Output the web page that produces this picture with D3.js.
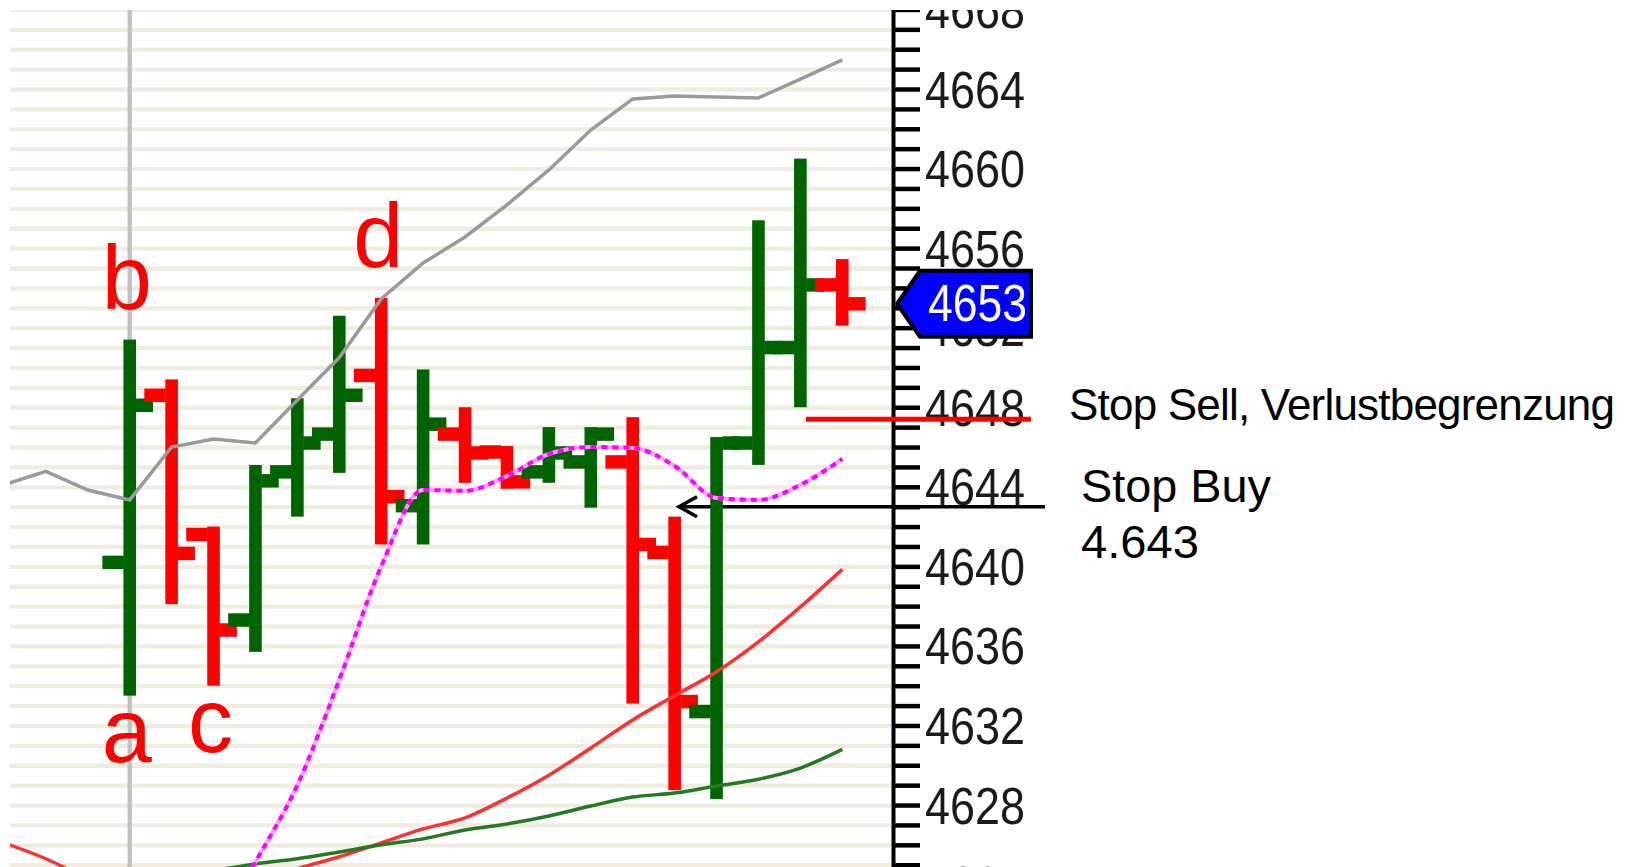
<!DOCTYPE html>
<html>
<head>
<meta charset="utf-8">
<script src="https://cdn.jsdelivr.net/npm/d3@7"></script>
<style>
  html, body { margin: 0; padding: 0; background: #fff; }
  svg { display: block; font-family: "Liberation Sans", Arial, sans-serif; }
</style>
</head>
<body>
<svg id="chart" width="1627" height="867"></svg>
<script>
// OHLC bars, index 0 = bar under the grey cursor line
const opens  = [4640.2, 4648.6, 4641.6, 4637.3, 4644.75, 4646.65, 4649.6, 4643.05, 4646.65,
                4645.75, 4644.75, 4645.25, 4645.25, 4640.7, 4632.7, 4646.2, 4651.0, 4654.15];
const highs  = [4651.4, 4649.4, 4642.0, 4645.1, 4648.45, 4652.6, 4653.5, 4649.9, 4648.0,
                4646.05, 4647.0, 4647.0, 4647.5, 4642.5, 4646.5, 4657.4, 4660.5, 4655.45];
const lows   = [4633.5, 4638.1, 4634.0, 4635.7, 4642.5, 4644.7, 4641.1, 4641.1, 4644.2,
                4643.9, 4644.2, 4642.95, 4633.1, 4628.75, 4628.3, 4645.1, 4648.0, 4652.1];
const closes = [4648.1, 4640.65, 4636.8, 4644.3, 4646.2, 4648.6, 4643.5, 4647.15, 4645.7,
                4644.25, 4645.7, 4646.65, 4641.1, 4633.2, 4646.2, 4651.0, 4654.15, 4653.2];

// indicator lines (first value sits at the given start index)
const greyStart = -3;
const greyLine = [4644.1, 4644.78, 4643.84, 4643.34, 4646.0, 4646.4, 4646.2, 4648.36, 4650.5, 4653.44,
                  4655.25, 4656.56, 4658.17, 4659.93, 4661.94, 4663.5, 4663.65, 4663.6, 4663.55, 4664.5, 4665.46];
const magentaStart = 2;
const magentaLine = [4621.5, 4625.14, 4629.0, 4634.3, 4640.0, 4643.84, 4643.8, 4644.54, 4645.65,
                     4646.0, 4645.95, 4645.05, 4643.44, 4643.34, 4644.1, 4645.4];
const redStart = -3;
const redLine = [4626.1, 4625.3, 4624.3, 4623.6, 4623.3, 4623.5, 4624.1, 4624.8, 4625.4, 4626.1, 4626.8,
                 4627.35, 4628.35, 4629.5, 4630.87, 4632.28, 4633.5, 4634.7, 4636.2, 4637.96, 4639.85];
const greenStart = 1;
const greenLine = [4624.3, 4624.7, 4625.04, 4625.3, 4625.64, 4626.0, 4626.3, 4626.75, 4627.05, 4627.45,
                   4627.95, 4628.4, 4628.6, 4628.96, 4629.3, 4629.86, 4630.8];

// price axis
const tickLabels = [4624, 4628, 4632, 4636, 4640, 4644, 4648, 4652, 4656, 4660, 4664, 4668];

// annotations
const markLetters = ["b", "a", "c", "d"];
const markBars = [0, 0, 2, 6];
const markSide = ["high", "low", "low", "high"];
const stopSell = 4647.4;
const stopBuy = 4643;
const stopSellText = "Stop Sell, Verlustbegrenzung";
const stopBuyText = ["Stop Buy", "4.643"];

const W = 1627, H = 867;
const plotLeft = 10, plotTop = 10, axisX = 893;
const green = "#006400", red = "#ff0000";

const svg = d3.select("#chart");

const x = d3.scaleLinear().domain([0, 17]).range([129.7, 842.3]);
const y = d3.scaleLinear().domain([4624, 4668]).range([884.6, 9.44]);

const defs = svg.append("defs");
defs.append("clipPath").attr("id", "clipPlot").append("rect")
  .attr("x", plotLeft).attr("y", plotTop)
  .attr("width", axisX - 2 - plotLeft).attr("height", H - plotTop);
defs.append("clipPath").attr("id", "clipAll").append("rect")
  .attr("x", 0).attr("y", plotTop).attr("width", W).attr("height", H - plotTop);

// axis on the right
const axisWrap = svg.append("g").attr("clip-path", "url(#clipAll)");
const gAxis = axisWrap.append("g")
  .attr("transform", `translate(${axisX},0)`)
  .call(d3.axisRight(y)
    .tickValues(d3.range(4624, 4669))
    .tickSize(27)
    .tickSizeOuter(0)
    .tickPadding(5)
    .tickFormat(v => tickLabels.includes(v) ? v : ""));
gAxis.attr("font-size", null).attr("font-family", null);
gAxis.select(".domain").attr("stroke", "#000").attr("stroke-width", 4);
gAxis.selectAll(".tick line").attr("stroke", "#000").attr("stroke-width", 4.5);
gAxis.selectAll(".tick text")
  .attr("font-size", 52)
  .attr("fill", "#1b1b1b")
  .attr("dy", null)
  .attr("y", 18)
  .attr("textLength", 100)
  .attr("lengthAdjust", "spacingAndGlyphs");

// grid and cursor
const under = svg.append("g").attr("clip-path", "url(#clipPlot)");
const gGrid = under.append("g")
  .attr("transform", `translate(${plotLeft},0)`)
  .call(d3.axisLeft(y)
    .tickValues(d3.range(4624, 4669))
    .tickSize(-(axisX - 2 - plotLeft))
    .tickFormat(""));
gGrid.select(".domain").remove();
gGrid.selectAll(".tick line").attr("stroke", "#f0ede0").attr("stroke-width", 4.3);

under.append("line")
  .attr("x1", x(0)).attr("x2", x(0))
  .attr("y1", plotTop).attr("y2", H)
  .attr("stroke", "#c0c0c0").attr("stroke-width", 4.3);

// stop buy arrow (lies under the bars)
const yBuy = y(stopBuy);
svg.append("line")
  .attr("x1", 679).attr("x2", 1045)
  .attr("y1", yBuy).attr("y2", yBuy)
  .attr("stroke", "#000").attr("stroke-width", 3.5);
svg.append("path")
  .attr("d", `M697,${yBuy - 10} L679,${yBuy} L697,${yBuy + 10}`)
  .attr("fill", "none").attr("stroke", "#000").attr("stroke-width", 3.5);

// OHLC bars
const plot = svg.append("g").attr("clip-path", "url(#clipPlot)");
const bars = opens.map((o, i) => ({ i, o, h: highs[i], l: lows[i], c: closes[i] }));
const barW = 12.6, openLen = 21, closeLen = 17, tickH = 13.5;
const bar = plot.append("g").selectAll("g").data(bars).join("g")
  .attr("fill", d => d.c >= d.o ? green : red);
bar.append("rect")
  .attr("x", d => x(d.i) - barW / 2).attr("y", d => y(d.h))
  .attr("width", barW).attr("height", d => y(d.l) - y(d.h));
bar.append("rect")
  .attr("x", d => x(d.i) - barW / 2 - openLen).attr("y", d => y(d.o) - tickH / 2)
  .attr("width", openLen + 0.5).attr("height", tickH);
bar.append("rect")
  .attr("x", d => x(d.i) + barW / 2 - 0.5).attr("y", d => y(d.c) - tickH / 2)
  .attr("width", closeLen + 0.5).attr("height", tickH);

// indicator lines
const lineFrom = (start, curve) => d3.line()
  .x((d, i) => x(start + i))
  .y(d => y(d))
  .curve(curve);

plot.append("path").datum(greyLine)
  .attr("d", lineFrom(greyStart, d3.curveLinear))
  .attr("fill", "none").attr("stroke", "#9a9a9a").attr("stroke-width", 3.5);
plot.append("path").datum(redLine)
  .attr("d", lineFrom(redStart, d3.curveMonotoneX))
  .attr("fill", "none").attr("stroke", "#ff3030").attr("stroke-width", 3.5);
plot.append("path").datum(greenLine)
  .attr("d", lineFrom(greenStart, d3.curveMonotoneX))
  .attr("fill", "none").attr("stroke", "#237a23").attr("stroke-width", 3.5);
plot.append("path").datum(magentaLine)
  .attr("d", lineFrom(magentaStart, d3.curveMonotoneX))
  .attr("fill", "none").attr("stroke", "#ffa0ff").attr("stroke-width", 4);
plot.append("path").datum(magentaLine)
  .attr("d", lineFrom(magentaStart, d3.curveMonotoneX))
  .attr("fill", "none").attr("stroke", "#ff00ff").attr("stroke-width", 4)
  .attr("stroke-dasharray", "6 5");

// a b c d marks
plot.append("g").selectAll("text").data(markLetters).join("text")
  .attr("x", (d, i) => x(markBars[i]) - 3)
  .attr("y", (d, i) => markSide[i] === "high"
    ? y(highs[markBars[i]]) - 31
    : y(lows[markBars[i]]) + 66)
  .attr("text-anchor", "middle")
  .attr("font-size", 90)
  .attr("fill", red)
  .text(d => d);

// stop sell line
const ySell = y(stopSell);
svg.append("line")
  .attr("x1", 806).attr("x2", 1031)
  .attr("y1", ySell).attr("y2", ySell)
  .attr("stroke", red).attr("stroke-width", 5);

// last price flag
const lastClose = closes[closes.length - 1];
const cy = y(lastClose);
svg.append("polygon")
  .attr("points", [[897, cy], [920, cy - 33], [1031, cy - 33], [1031, cy + 33], [920, cy + 33]].join(" "))
  .attr("fill", "#0000ff").attr("stroke", "#000").attr("stroke-width", 4);
svg.append("text")
  .attr("x", 928).attr("y", cy + 17)
  .attr("font-size", 52)
  .attr("fill", "#fff")
  .attr("textLength", 99)
  .attr("lengthAdjust", "spacingAndGlyphs")
  .text(d3.format(".0f")(lastClose));

// notes
svg.append("text")
  .attr("x", 1069).attr("y", 420)
  .attr("font-size", 44).attr("fill", "#000")
  .attr("textLength", 546)
  .text(stopSellText);
svg.append("g").selectAll("text").data(stopBuyText).join("text")
  .attr("x", 1081).attr("y", (d, i) => 502 + i * 56)
  .attr("font-size", 46).attr("fill", "#000")
  .attr("textLength", (d, i) => i === 0 ? 190 : 118)
  .attr("lengthAdjust", "spacingAndGlyphs")
  .text(d => d);
</script>
</body>
</html>
